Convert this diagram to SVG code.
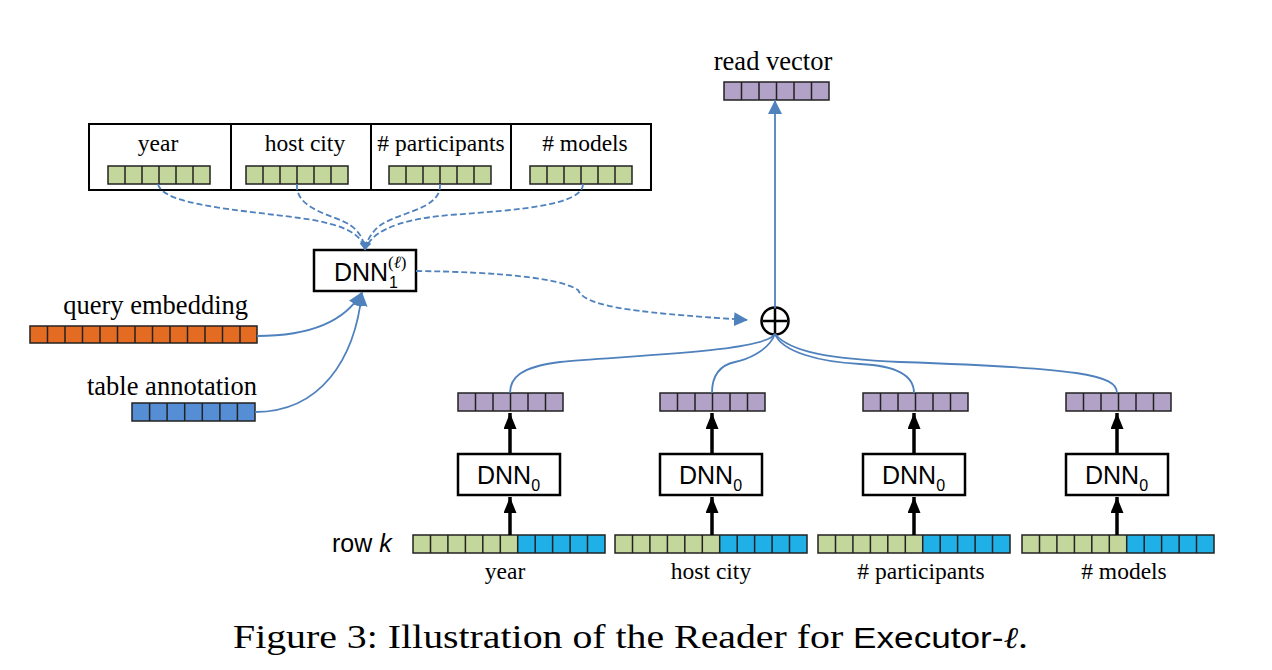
<svg xmlns="http://www.w3.org/2000/svg" width="1272" height="670" viewBox="0 0 1272 670">
<style>
.cell{stroke:#222;stroke-width:1.5}
.g{fill:#c3d69b}.rb{fill:#1fb0e8}.tb{fill:#558ed5}.o{fill:#e46c22}.p{fill:#b3a2c7}
.div{stroke:#222;stroke-width:1.5;fill:none}
.lbl{font-family:"Liberation Serif",serif;font-size:23.5px;fill:#000}
.big{font-size:26.5px}
.dnn{font-family:"Liberation Sans",sans-serif;font-size:25px;fill:#000}
.box{fill:#fff;stroke:#000;stroke-width:2.5}
.blue{stroke:#4f81bd;stroke-width:1.8;fill:none}
.dash{stroke:#4f81bd;stroke-width:1.8;fill:none;stroke-dasharray:6 3}
.thick{stroke:#000;stroke-width:3.5;fill:none}
</style>
<defs>
<marker id="ab" viewBox="0 0 10 10" refX="10" refY="5" markerWidth="8" markerHeight="8" markerUnits="userSpaceOnUse" orient="auto"><path d="M0,0 L10,5 L0,10 z" fill="#4f81bd"/></marker>
<marker id="abl" viewBox="0 0 10 10" refX="10" refY="5" markerWidth="14" markerHeight="14" markerUnits="userSpaceOnUse" orient="auto"><path d="M0,0 L10,5 L0,10 z" fill="#4f81bd"/></marker>
<marker id="ak" viewBox="0 0 10 10" refX="10" refY="5" markerWidth="16" markerHeight="13" markerUnits="userSpaceOnUse" orient="auto" preserveAspectRatio="none"><path d="M0,0 L10,5 L0,10 z" fill="#000"/></marker>
</defs>
<rect width="1272" height="670" fill="#fff"/>

<!-- top table -->
<g id="table">
<rect x="89" y="124" width="562" height="66" fill="#fff" stroke="#000" stroke-width="2"/>
<path d="M231,124V190M371,124V190M511,124V190" stroke="#000" stroke-width="2"/>
<text class="lbl" x="158" y="151" text-anchor="middle">year</text>
<text class="lbl" x="305" y="151" text-anchor="middle">host city</text>
<text class="lbl" x="441" y="151" text-anchor="middle"># participants</text>
<text class="lbl" x="585" y="151" text-anchor="middle"># models</text>
<rect class="cell g" x="108" y="166" width="102" height="18"/>
<path class="div" d="M125,166v18M142,166v18M159,166v18M176,166v18M193,166v18"/>
<rect class="cell g" x="246" y="166" width="102" height="18"/>
<path class="div" d="M263,166v18M280,166v18M297,166v18M314,166v18M331,166v18"/>
<rect class="cell g" x="389" y="166" width="102" height="18"/>
<path class="div" d="M406,166v18M423,166v18M440,166v18M457,166v18M474,166v18"/>
<rect class="cell g" x="530" y="166" width="102" height="18"/>
<path class="div" d="M547,166v18M564,166v18M581,166v18M598,166v18M615,166v18"/>
</g>

<g id="dnn1">
<rect class="box" x="314" y="250" width="102" height="41"/>
<text class="dnn" x="334" y="281">DNN</text>
<text font-family="Liberation Sans,sans-serif" font-size="16" x="389" y="288">1</text>
<text font-family="Liberation Serif,serif" font-size="17" x="388" y="268">(<tspan font-style="italic">ℓ</tspan>)</text>
</g>

<g id="query">
<text class="lbl big" x="248" y="314" text-anchor="end">query embedding</text>
<rect class="cell o" x="30" y="326" width="227" height="17"/>
<path class="div" d="M47.5,326v17M65,326v17M82.5,326v17M100,326v17M117.5,326v17M135,326v17M152.5,326v17M170,326v17M187.5,326v17M205,326v17M222.5,326v17M240,326v17"/>
</g>

<g id="annot">
<text class="lbl big" x="257" y="395" text-anchor="end">table annotation</text>
<rect class="cell tb" x="132" y="403" width="123" height="18"/>
<path class="div" d="M149.6,403v18M167.1,403v18M184.7,403v18M202.3,403v18M219.9,403v18M237.4,403v18"/>
</g>

<g id="readvec">
<text class="lbl big" x="773" y="70" text-anchor="middle">read vector</text>
<rect class="cell p" x="724" y="82" width="105" height="18"/>
<path class="div" d="M741.5,82v18M759,82v18M776.5,82v18M794,82v18M811.5,82v18"/>
</g>

<g id="plus">
<circle cx="775" cy="321" r="13.5" fill="#fff" stroke="#000" stroke-width="2.5"/>
<path d="M763,321H787M775,309V333" stroke="#000" stroke-width="2.5"/>
</g>

<!-- purple outputs -->
<g id="out1"><rect class="cell p" x="458" y="393" width="105" height="18"/><path class="div" d="M475.5,393v18M493,393v18M510.5,393v18M528,393v18M545.5,393v18"/></g>
<g id="out2"><rect class="cell p" x="660" y="393" width="105" height="18"/><path class="div" d="M677.5,393v18M695,393v18M712.5,393v18M730,393v18M747.5,393v18"/></g>
<g id="out3"><rect class="cell p" x="863" y="393" width="105" height="18"/><path class="div" d="M880.5,393v18M898,393v18M915.5,393v18M933,393v18M950.5,393v18"/></g>
<g id="out4"><rect class="cell p" x="1066" y="393" width="105" height="18"/><path class="div" d="M1083.5,393v18M1101,393v18M1118.5,393v18M1136,393v18M1153.5,393v18"/></g>

<!-- DNN0 boxes -->
<g id="dnn0a"><rect class="box" x="458" y="454" width="102" height="41"/><text class="dnn" x="477" y="484">DNN<tspan font-size="16" dy="7">0</tspan></text></g>
<g id="dnn0b"><rect class="box" x="660" y="454" width="102" height="41"/><text class="dnn" x="679" y="484">DNN<tspan font-size="16" dy="7">0</tspan></text></g>
<g id="dnn0c"><rect class="box" x="863" y="454" width="102" height="41"/><text class="dnn" x="882" y="484">DNN<tspan font-size="16" dy="7">0</tspan></text></g>
<g id="dnn0d"><rect class="box" x="1066" y="454" width="102" height="41"/><text class="dnn" x="1085" y="484">DNN<tspan font-size="16" dy="7">0</tspan></text></g>

<!-- row vectors -->
<text id="rowk" font-family="Liberation Sans,sans-serif" font-size="25" x="332" y="552">row <tspan font-style="italic">k</tspan></text>
<g id="row1"><rect class="g" x="413" y="535" width="104.7" height="18"/><rect class="rb" x="517.7" y="535" width="87.3" height="18"/><rect x="413" y="535" width="192" height="18" fill="none" stroke="#222" stroke-width="1.5"/><path class="div" d="M430.5,535v18M447.9,535v18M465.4,535v18M482.8,535v18M500.3,535v18M517.7,535v18M535.2,535v18M552.6,535v18M570.1,535v18M587.5,535v18"/><text class="lbl" x="505" y="579" text-anchor="middle">year</text></g>
<g id="row2"><rect class="g" x="615" y="535" width="104.7" height="18"/><rect class="rb" x="719.7" y="535" width="87.3" height="18"/><rect x="615" y="535" width="192" height="18" fill="none" stroke="#222" stroke-width="1.5"/><path class="div" d="M632.5,535v18M649.9,535v18M667.4,535v18M684.8,535v18M702.3,535v18M719.7,535v18M737.2,535v18M754.6,535v18M772.1,535v18M789.5,535v18"/><text class="lbl" x="711" y="579" text-anchor="middle">host city</text></g>
<g id="row3"><rect class="g" x="818" y="535" width="104.7" height="18"/><rect class="rb" x="922.7" y="535" width="87.3" height="18"/><rect x="818" y="535" width="192" height="18" fill="none" stroke="#222" stroke-width="1.5"/><path class="div" d="M835.5,535v18M852.9,535v18M870.4,535v18M887.8,535v18M905.3,535v18M922.7,535v18M940.2,535v18M957.6,535v18M975.1,535v18M992.5,535v18"/><text class="lbl" x="921" y="579" text-anchor="middle"># participants</text></g>
<g id="row4"><rect class="g" x="1022" y="535" width="104.7" height="18"/><rect class="rb" x="1126.7" y="535" width="87.3" height="18"/><rect x="1022" y="535" width="192" height="18" fill="none" stroke="#222" stroke-width="1.5"/><path class="div" d="M1039.5,535v18M1056.9,535v18M1074.4,535v18M1091.8,535v18M1109.3,535v18M1126.7,535v18M1144.2,535v18M1161.6,535v18M1179.1,535v18M1196.5,535v18"/><text class="lbl" x="1124" y="579" text-anchor="middle"># models</text></g>

<g id="connectors">
<path class="dash" d="M158,184 C162,205 240,210 300,218 C350,225 362,236 365,250" marker-end="url(#ab)"/>
<path class="dash" d="M297,184 C295,210 335,215 350,225 C360,232 364,240 365,250" marker-end="url(#ab)"/>
<path class="dash" d="M440,184 C442,212 390,212 375,230 C368,238 366,244 365,250" marker-end="url(#ab)"/>
<path class="dash" d="M583,184 C583,205 520,210 450,215 C390,220 370,235 365,250" marker-end="url(#ab)"/>
<path class="blue" d="M257,336 C310,336 345,322 362,292" marker-end="url(#abl)"/>
<path class="blue" d="M255,412 C320,412 355,360 362,292" marker-end="url(#abl)"/>
<path class="dash" d="M416,271 C500,272 560,278 578,290 C585,305 620,312 748,320" marker-end="url(#abl)"/>
<path class="blue" d="M775,308 V100" marker-end="url(#abl)"/>
<path class="blue" d="M775,334 C765,352 620,356 560,362 C520,367 510,378 510,393"/>
<path class="blue" d="M775,334 C768,352 745,360 735,362 C716,366 712,380 712,393"/>
<path class="blue" d="M775,334 C782,352 820,362 860,364 C905,366 914,380 914,393"/>
<path class="blue" d="M775,334 C790,352 830,359 900,362 C1080,368 1117,375 1117,393"/>
<path class="thick" d="M510,454 V413" marker-end="url(#ak)"/>
<path class="thick" d="M712,454 V413" marker-end="url(#ak)"/>
<path class="thick" d="M914,454 V413" marker-end="url(#ak)"/>
<path class="thick" d="M1117,454 V413" marker-end="url(#ak)"/>
<path class="thick" d="M510,535 V497" marker-end="url(#ak)"/>
<path class="thick" d="M712,535 V497" marker-end="url(#ak)"/>
<path class="thick" d="M914,535 V497" marker-end="url(#ak)"/>
<path class="thick" d="M1117,535 V497" marker-end="url(#ak)"/>
</g>

<text id="caption" x="233" y="648" font-family="Liberation Serif,serif" font-size="34" textLength="795" lengthAdjust="spacingAndGlyphs">Figure 3: Illustration of the Reader for <tspan font-family="Liberation Sans,sans-serif" font-size="30">Executor-<tspan font-family="Liberation Serif,serif" font-style="italic">ℓ</tspan></tspan>.</text>
</svg>
